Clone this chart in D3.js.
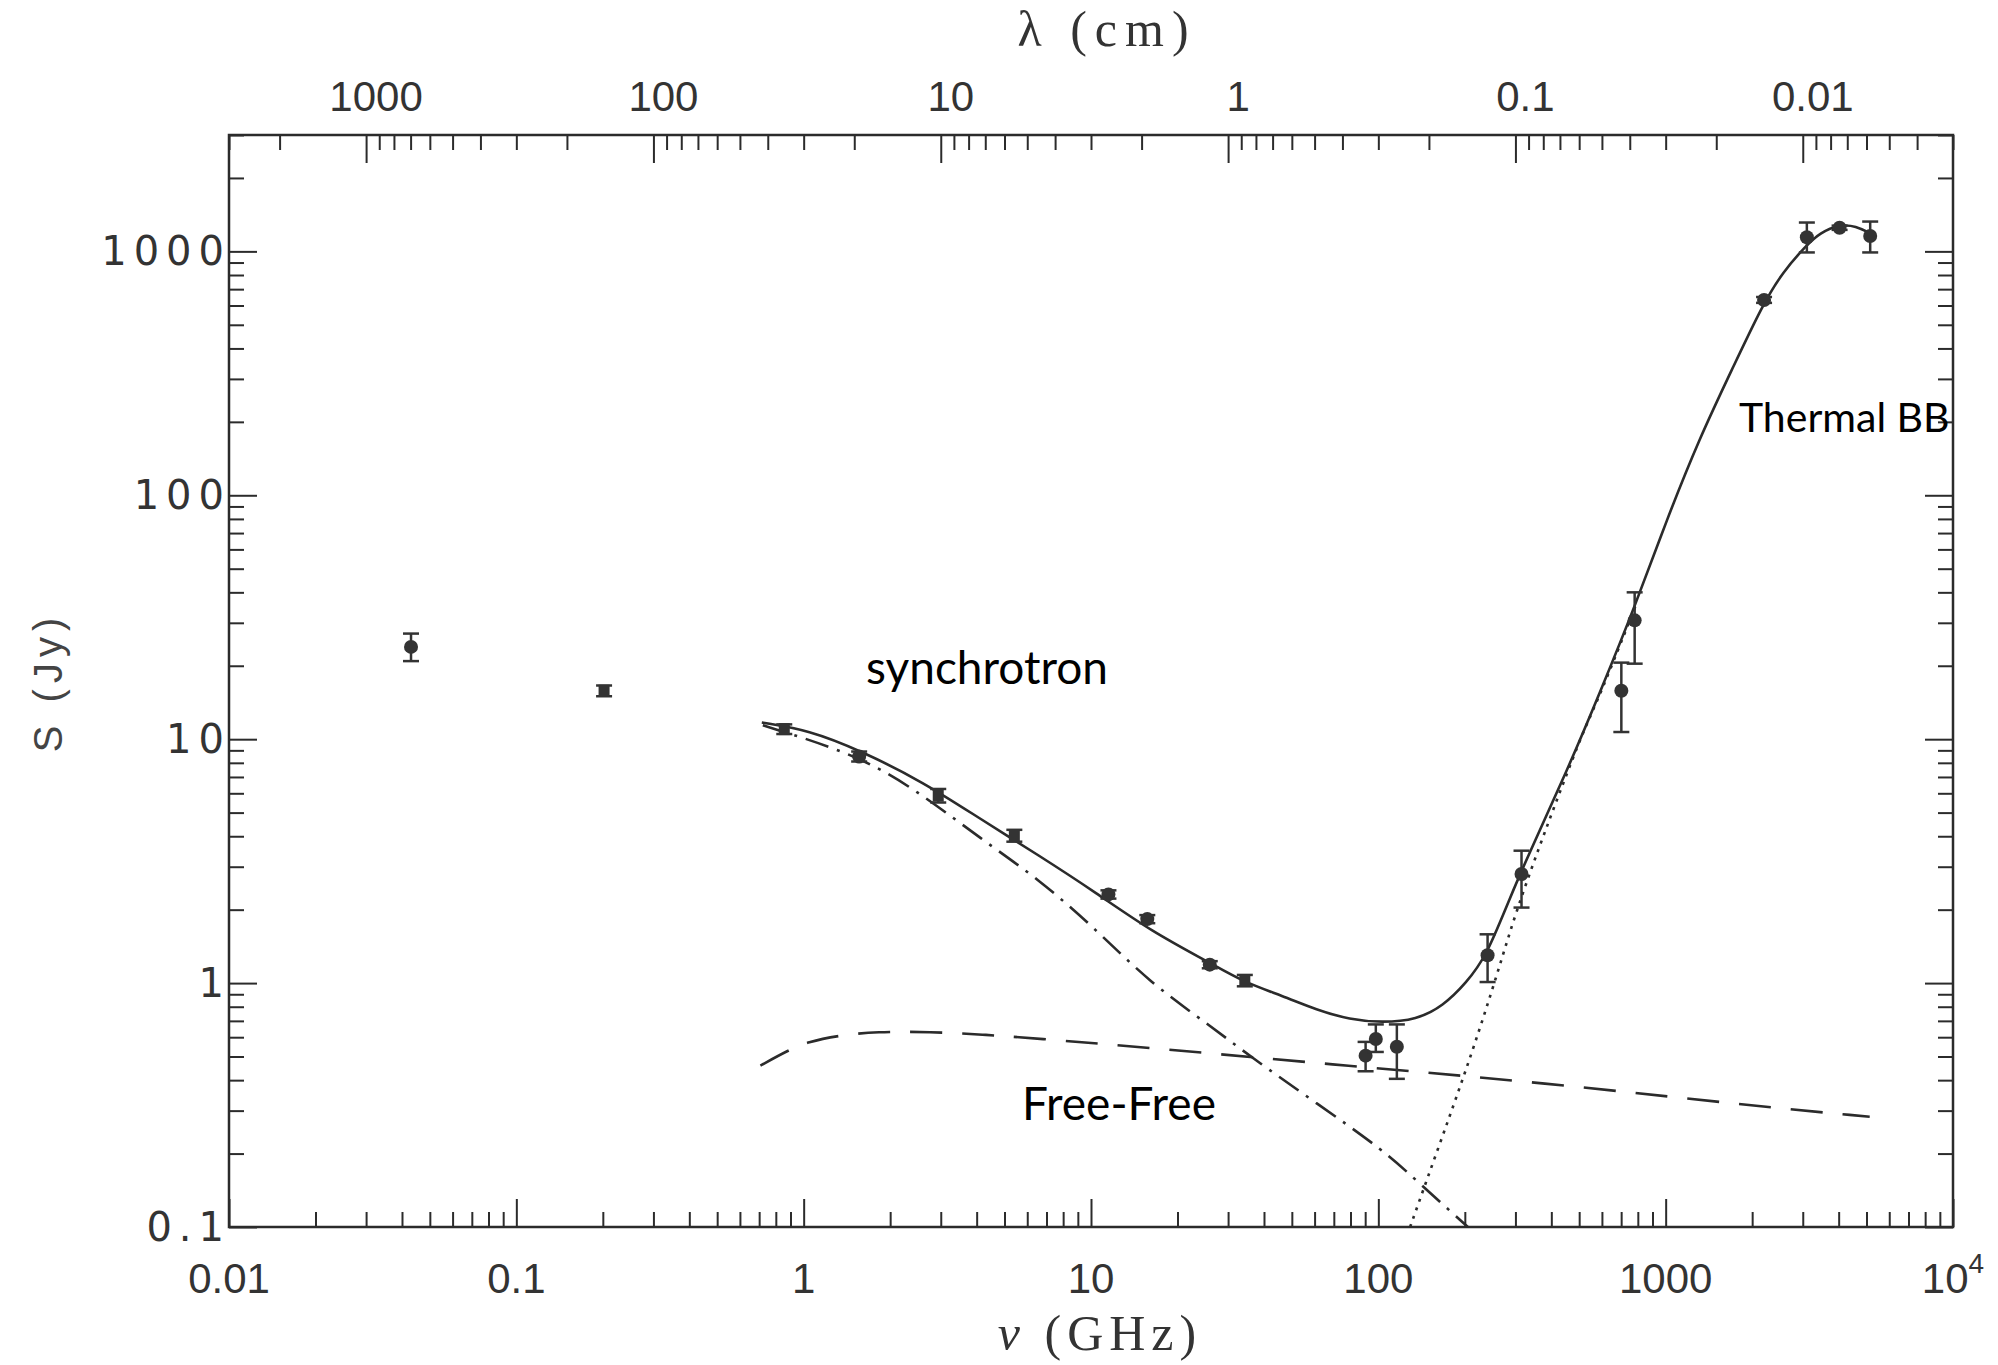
<!DOCTYPE html>
<html>
<head>
<meta charset="utf-8">
<script src="https://cdn.jsdelivr.net/npm/d3@7"></script>
<style>
  body { margin: 0; background: #fff; }
  svg { display: block; }
</style>
</head>
<body>
<div id="chart"></div>
<script>
// axis ticks
var nuTicks = [0.01, 0.1, 1, 10, 100, 1000, 10000];
var nuTickLabels = ["0.01", "0.1", "1", "10", "100", "1000", "10^4"];
var lambdaTicks = [1000, 100, 10, 1, 0.1, 0.01];
var lambdaTickLabels = ["1000", "100", "10", "1", "0.1", "0.01"];
var sTicks = [0.1, 1, 10, 100, 1000];
var sTickLabels = ["0.1", "1", "10", "100", "1000"];

// measured fluxes (GHz, Jy)
var obsNu = [0.043, 0.202, 0.856, 1.56, 2.94, 5.41, 11.5, 15.7, 25.9, 34.3, 90.3, 98, 116, 240, 315, 701, 780, 2200, 3100, 4030, 5150];
var obsS = [23.9, 15.8, 11.0, 8.49, 5.87, 4.02, 2.31, 1.83, 1.19, 1.025, 0.504, 0.59, 0.548, 1.30, 2.80, 15.8, 30.7, 632, 1142, 1250, 1157];
var obsLo = [20.9, 15.0, 10.5, 8.1, 5.5, 3.8, 2.22, 1.76, 1.15, 0.97, 0.435, 0.522, 0.405, 1.01, 2.04, 10.7, 20.4, 615, 990, 1225, 990];
var obsHi = [27.1, 16.6, 11.5, 8.9, 6.25, 4.25, 2.40, 1.90, 1.23, 1.08, 0.574, 0.677, 0.677, 1.585, 3.49, 20.6, 40.0, 650, 1313, 1275, 1325];
var obsMark = ["c", "s", "s", "c", "s", "s", "c", "c", "c", "s", "c", "c", "c", "c", "c", "c", "c", "c", "c", "c", "c"];

// model curves
var totalNu = [0.715, 1.04, 1.58, 2.61, 4.13, 6.58, 10.4, 16.2, 26.0, 33.9, 46.5, 61, 79.5, 103, 136, 168, 202, 238, 286, 344, 451, 589, 791, 1005, 1312, 1714, 2183, 2560, 3090, 3435, 4030, 4603, 5130];
var totalS = [11.7, 10.9, 8.97, 6.67, 4.70, 3.34, 2.35, 1.63, 1.21, 1.01, 0.886, 0.776, 0.709, 0.688, 0.708, 0.805, 1.0, 1.29, 2.22, 3.65, 7.31, 15.4, 36.3, 78.6, 172, 334, 610, 825, 1059, 1188, 1291, 1270, 1188];
var syncNu = [0.721, 1.58, 2.61, 4.13, 6.58, 10.4, 16.0, 26.1, 35.6, 60.6, 104, 139, 205];
var syncS = [11.4, 8.55, 5.89, 3.91, 2.67, 1.66, 1.006, 0.666, 0.503, 0.323, 0.207, 0.151, 0.1];
var ffNu = [0.707, 0.882, 1.03, 1.33, 1.79, 2.75, 4.22, 6.22, 16.0, 79.5, 373, 1951, 5130];
var ffS = [0.459, 0.530, 0.573, 0.611, 0.632, 0.632, 0.615, 0.595, 0.543, 0.457, 0.391, 0.315, 0.283];
var dustNu = [129, 147.5, 177, 202, 231, 264, 301, 364, 428, 515, 589, 791];
var dustS = [0.1, 0.156, 0.284, 0.442, 0.709, 1.17, 1.95, 3.65, 6.06, 10.7, 15.0, 35.9];

var width = 1998,
    height = 1365,
    margin = { top: 135, right: 45, bottom: 138, left: 229 };

var ink = "#2b2b2b";

var svg = d3.select("#chart")
    .append("svg")
    .attr("width", width)
    .attr("height", height);

var x = d3.scaleLog()
    .domain([0.01, 1e4])
    .range([margin.left, width - margin.right]);

var y = d3.scaleLog()
    .domain([0.1, 3000])
    .range([height - margin.bottom, margin.top]);

// wavelength in cm = 30 / nu(GHz)
var lam = d3.scaleLog()
    .domain([30 / 0.01, 30 / 1e4])
    .range([margin.left, width - margin.right]);

var isDecade = function(v) {
    var l = Math.log10(v);
    return Math.abs(l - Math.round(l)) < 1e-6;
};

////////// ticks //////////

function drawTicks(axisFn, scale, translate) {
    var all = scale.ticks();
    var minor = all.filter(function(v) { return !isDecade(v); });
    var major = all.filter(isDecade);
    [[minor, 15], [major, 28]].forEach(function(t) {
        svg.append("g")
            .attr("class", "ticks")
            .attr("transform", translate)
            .call(axisFn(scale).tickValues(t[0]).tickSize(t[1]).tickFormat(""))
            .call(function(g) { g.select(".domain").remove(); });
    });
}

drawTicks(d3.axisTop, x, "translate(0," + (height - margin.bottom) + ")");
drawTicks(d3.axisBottom, lam, "translate(0," + margin.top + ")");
drawTicks(d3.axisRight, y, "translate(" + margin.left + ",0)");
drawTicks(d3.axisLeft, y, "translate(" + (width - margin.right) + ",0)");

svg.selectAll(".ticks line")
    .attr("stroke", ink)
    .attr("stroke-width", 2);

svg.append("rect")
    .attr("x", margin.left)
    .attr("y", margin.top)
    .attr("width", width - margin.left - margin.right)
    .attr("height", height - margin.top - margin.bottom)
    .attr("fill", "none")
    .attr("stroke", ink)
    .attr("stroke-width", 2.5);

////////// tick labels //////////

var bottomLabels = svg.append("g")
    .attr("font-family", "Liberation Sans, Arial, sans-serif")
    .attr("font-size", 42)
    .attr("fill", "#333")
    .attr("text-anchor", "middle");

nuTicks.forEach(function(v, i) {
    var t = bottomLabels.append("text")
        .attr("x", x(v))
        .attr("y", 1293);
    var lbl = nuTickLabels[i];
    if (lbl.indexOf("^") > 0) {
        var parts = lbl.split("^");
        t.append("tspan").text(parts[0]);
        t.append("tspan")
            .attr("font-size", 28)
            .attr("dy", -20)
            .text(parts[1]);
    } else {
        t.text(lbl);
    }
});

svg.append("g")
    .attr("font-family", "Liberation Sans, Arial, sans-serif")
    .attr("font-size", 42)
    .attr("fill", "#333")
    .attr("text-anchor", "middle")
    .selectAll("text")
    .data(lambdaTicks)
    .enter()
    .append("text")
    .attr("x", function(d) { return lam(d) + 10; })
    .attr("y", 111)
    .text(function(d, i) { return lambdaTickLabels[i]; });

svg.append("g")
    .attr("font-family", "DejaVu Sans, sans-serif")
    .attr("font-size", 40)
    .attr("letter-spacing", 7)
    .attr("fill", "#333")
    .attr("text-anchor", "end")
    .selectAll("text")
    .data(sTicks)
    .enter()
    .append("text")
    .attr("x", margin.left + 2)
    .attr("y", function(d) { return y(d) + 14; })
    .text(function(d, i) { return sTickLabels[i]; });

////////// axis titles //////////

svg.append("text")
    .attr("x", 1107)
    .attr("y", 46)
    .attr("text-anchor", "middle")
    .attr("font-family", "Liberation Serif, Times New Roman, serif")
    .attr("font-size", 50)
    .attr("letter-spacing", 8)
    .attr("fill", "#333")
    .text("λ (cm)");

var nuTitle = svg.append("text")
    .attr("x", 1100)
    .attr("y", 1350)
    .attr("text-anchor", "middle")
    .attr("font-family", "Liberation Serif, Times New Roman, serif")
    .attr("font-size", 50)
    .attr("letter-spacing", 6)
    .attr("fill", "#333");
nuTitle.append("tspan").attr("font-style", "italic").text("ν");
nuTitle.append("tspan").text(" (GHz)");

svg.append("text")
    .attr("transform", "translate(62,682) rotate(-90)")
    .attr("text-anchor", "middle")
    .attr("font-family", "Liberation Sans, Arial, sans-serif")
    .attr("font-size", 40)
    .attr("letter-spacing", 6)
    .attr("fill", "#444")
    .text("S (Jy)");

////////// model curves //////////

var line = d3.line()
    .x(function(d) { return x(d[0]); })
    .y(function(d) { return y(d[1]); })
    .curve(d3.curveBasis);

var curves = [
    { nu: ffNu, s: ffS, dash: "32,20" },
    { nu: syncNu, s: syncS, dash: "24,9,3,9" },
    { nu: dustNu, s: dustS, dash: "3,6" },
    { nu: totalNu, s: totalS, dash: null }
];

var plot = svg.append("g").attr("class", "plot");

curves.forEach(function(c) {
    plot.append("path")
        .datum(d3.zip(c.nu, c.s))
        .attr("fill", "none")
        .attr("stroke", ink)
        .attr("stroke-width", 2.6)
        .attr("stroke-dasharray", c.dash)
        .attr("d", line);
});

////////// data points //////////

var obs = obsNu.map(function(v, i) {
    return { nu: v, s: obsS[i], lo: obsLo[i], hi: obsHi[i], mark: obsMark[i] };
});

var pts = plot.selectAll(".obs")
    .data(obs)
    .enter()
    .append("g")
    .attr("class", "obs")
    .attr("fill", "#333")
    .attr("stroke", "#333");

pts.append("line")
    .attr("x1", function(d) { return x(d.nu); })
    .attr("x2", function(d) { return x(d.nu); })
    .attr("y1", function(d) { return y(d.lo); })
    .attr("y2", function(d) { return y(d.hi); })
    .attr("stroke-width", 2.5);

["lo", "hi"].forEach(function(k) {
    pts.append("line")
        .attr("x1", function(d) { return x(d.nu) - 8; })
        .attr("x2", function(d) { return x(d.nu) + 8; })
        .attr("y1", function(d) { return y(d[k]); })
        .attr("y2", function(d) { return y(d[k]); })
        .attr("stroke-width", 2.5);
});

pts.filter(function(d) { return d.mark === "c"; })
    .append("circle")
    .attr("cx", function(d) { return x(d.nu); })
    .attr("cy", function(d) { return y(d.s); })
    .attr("r", 7)
    .attr("stroke", "none");

pts.filter(function(d) { return d.mark === "s"; })
    .append("rect")
    .attr("x", function(d) { return x(d.nu) - 5.5; })
    .attr("y", function(d) { return y(d.s) - 6; })
    .attr("width", 11)
    .attr("height", 12)
    .attr("stroke", "none");

////////// annotations //////////

var notes = svg.append("g")
    .attr("font-family", "Lato, Noto Sans, sans-serif")
    .attr("font-size", 46)
    .attr("fill", "#000");

notes.append("text").attr("x", 866).attr("y", 684).text("synchrotron");
notes.append("text").attr("x", 1022).attr("y", 1120).text("Free-Free");
notes.append("text").attr("x", 1739).attr("y", 432).attr("font-size", 41).text("Thermal BB");
</script>
</body>
</html>
